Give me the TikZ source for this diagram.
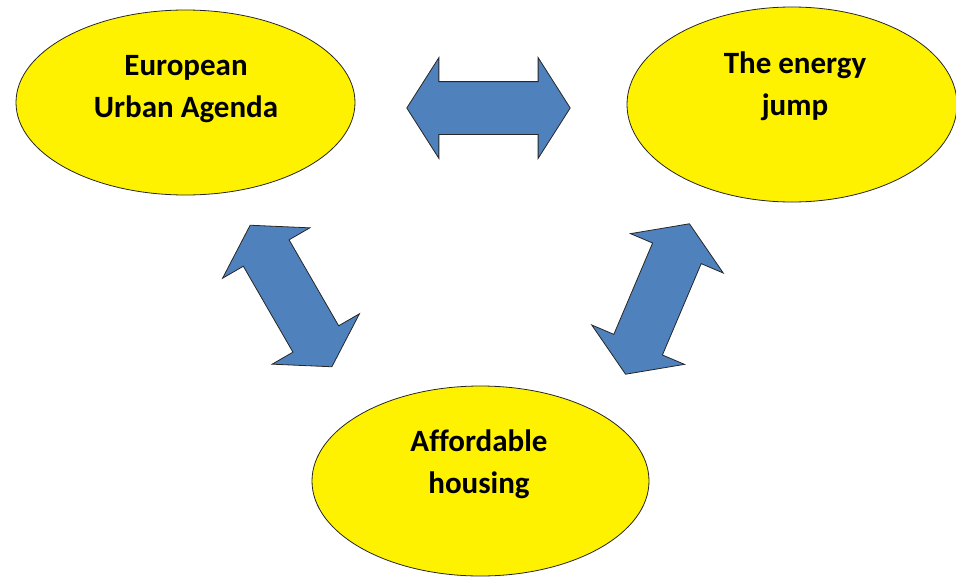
\documentclass[tikz,border=0pt]{standalone}
\usepackage{fontspec}
\setmainfont[Ligatures=NoCommon]{Carlito}
\usetikzlibrary{shapes.geometric,shapes.arrows}
\definecolor{arrowblue}{HTML}{4F81BD}
\begin{document}
\begin{tikzpicture}[x=1pt,y=-1pt,
    blob/.style={ellipse,draw=black!85,line width=0.8pt,fill=yellow,inner sep=0pt},
    twoway/.style={double arrow,draw=black!85,line width=0.8pt,fill=arrowblue,
      inner xsep=64.5pt,inner ysep=26pt,minimum width=0pt,minimum height=0pt,
      double arrow head extend=24pt,double arrow tip angle=115},
    lbl/.style={align=center,font=\fontsize{31}{42}\selectfont\bfseries}]
    \clip (0,0) rectangle (956,576);
    \node[blob,minimum width=339pt,minimum height=185pt] (urban) at (185.5,102.5) {};
    \node[blob,minimum width=330pt,minimum height=195pt] (energy) at (792,104.5) {};
    \node[blob,minimum width=337pt,minimum height=190pt] (housing) at (480.5,481) {};
    \node[lbl] (urbantext) at (186,89.5) {European\\Urban Agenda};
    \node[lbl] (energytext) at (795,86) {The energy\\jump};
    \node[lbl] (housingtext) at (479,464.5) {Affordable\\housing};
    \node[twoway] (toptwo) at (488.5,108) {};
    \node[twoway,rotate=-60] (lefttwo) at (291,296) {};
    \node[twoway,rotate=67] (righttwo) at (657.5,299) {};
\end{tikzpicture}
\end{document}
